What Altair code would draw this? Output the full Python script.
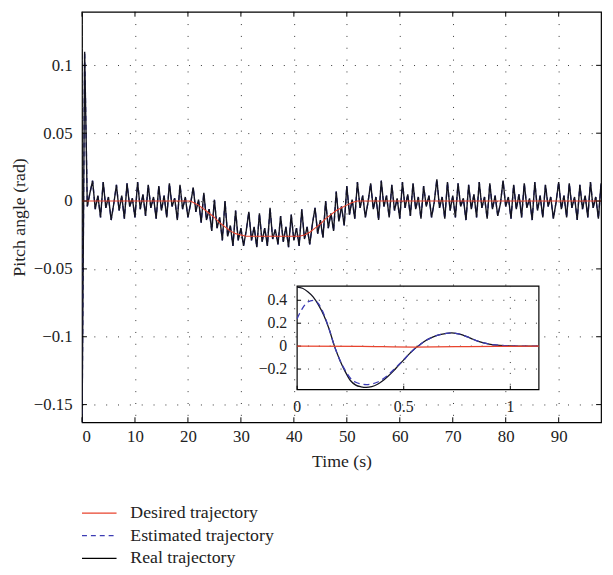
import altair as alt
import pandas as pd

# ---------------- data ----------------
# Real trajectory, main plot, sampled every 0.5 s from t = 0 to 98
real_vals = [
    -0.170, 0.110, -0.004, 0.006, 0.015, -0.006, 0.004, -0.012,
    0.014, -0.005, 0.003, -0.014, -0.002, 0.012, -0.007, 0.004,
    -0.013, 0.013, -0.004, 0.002, -0.012, 0.014, -0.006, 0.005,
    -0.011, 0.012, -0.005, 0.003, -0.013, 0.011, -0.007, 0.004,
    -0.012, 0.013, -0.004, 0.002, -0.014, 0.012, -0.006, 0.003,
    -0.012, -0.002, 0.010, -0.008, 0.001, -0.016, 0.006, -0.014,
    -0.006, -0.022, 0.001, -0.020, -0.012, -0.029, 0.000, -0.026,
    -0.018, -0.033, -0.007, -0.029, -0.020, -0.033, -0.022, -0.008,
    -0.029, -0.019, -0.034, -0.009, -0.030, -0.020, -0.033, -0.005,
    -0.028, -0.021, -0.032, -0.011, -0.030, -0.019, -0.034, -0.010,
    -0.029, -0.020, -0.033, -0.006, -0.028, -0.019, -0.032, -0.017,
    -0.005, -0.024, -0.014, -0.027, 0.000, -0.020, -0.009, -0.022,
    0.007, -0.015, -0.004, -0.018, 0.011, -0.010, 0.001, -0.013,
    0.014, -0.005, 0.004, -0.012, -0.001, 0.013, -0.006, 0.003,
    -0.014, 0.015, -0.004, 0.004, -0.012, 0.012, -0.007, 0.002,
    -0.013, 0.014, -0.005, 0.005, -0.011, 0.013, -0.006, 0.003,
    -0.013, 0.011, -0.004, 0.004, -0.012, -0.001, 0.016, -0.005,
    0.003, -0.013, 0.014, -0.007, 0.004, -0.012, 0.013, -0.004,
    0.002, -0.014, 0.012, -0.006, 0.005, -0.012, 0.014, -0.005,
    0.003, -0.013, 0.013, -0.006, 0.004, -0.011, -0.002, 0.015,
    -0.004, 0.003, -0.013, 0.012, -0.006, 0.005, -0.012, 0.013,
    -0.005, 0.002, -0.014, 0.014, -0.007, 0.004, -0.012, 0.012,
    -0.004, 0.003, -0.013, -0.001, 0.014, -0.006, 0.004, -0.012,
    0.013, -0.005, 0.003, -0.014, 0.012, -0.006, 0.004, -0.012,
    0.014, -0.005, 0.003, -0.013, 0.013,
]
real_t = [i * 0.5 for i in range(len(real_vals))]
# estimated trajectory coincides with the real one at this scale
est_vals = real_vals

desired_t = [0, 20.5, 21, 22, 23, 24, 25, 26, 27, 28, 29, 30, 31, 41, 42, 43,
             44, 45, 46, 47, 48, 49, 50, 51, 52, 98]
desired_v = [0, 0, -0.001, -0.003, -0.006, -0.009, -0.012, -0.016, -0.019,
             -0.022, -0.024, -0.025, -0.026, -0.026, -0.025, -0.023, -0.020,
             -0.017, -0.013, -0.010, -0.007, -0.005, -0.003, -0.001, 0, 0]

x_ticks = [0, 10, 20, 30, 40, 50, 60, 70, 80, 90]
y_ticks = [-0.15, -0.1, -0.05, 0, 0.05, 0.1]

# Inset (zoom on the first second)
inset_t = [0, 0.025, 0.05, 0.075, 0.1, 0.125, 0.15, 0.175, 0.2, 0.225, 0.25,
           0.275, 0.3, 0.325, 0.35, 0.375, 0.4, 0.425, 0.45, 0.475, 0.5, 0.525,
           0.55, 0.575, 0.6, 0.625, 0.65, 0.675, 0.7, 0.725, 0.75, 0.775, 0.8,
           0.825, 0.85, 0.875, 0.9, 0.95, 1.0, 1.05, 1.1, 1.134]
inset_real = [0.515, 0.505, 0.475, 0.43, 0.36, 0.27, 0.15, 0.0, -0.12, -0.22,
              -0.30, -0.34, -0.355, -0.36, -0.353, -0.335, -0.305, -0.265,
              -0.22, -0.17, -0.12, -0.07, -0.025, 0.01, 0.045, 0.07, 0.09,
              0.103, 0.112, 0.115, 0.11, 0.098, 0.08, 0.06, 0.042, 0.028,
              0.018, 0.007, 0.002, 0.0, 0.0, 0.0]
inset_est = [0.24, 0.33, 0.385, 0.40, 0.37, 0.28, 0.15, 0.0, -0.12, -0.21,
             -0.28, -0.315, -0.33, -0.335, -0.33, -0.315, -0.29, -0.255,
             -0.21, -0.165, -0.12, -0.07, -0.025, 0.01, 0.045, 0.07, 0.09,
             0.103, 0.112, 0.115, 0.11, 0.098, 0.08, 0.06, 0.042, 0.028,
             0.018, 0.007, 0.002, 0.0, 0.0, 0.0]
inset_des_t = [0, 0.3, 0.55, 0.8, 1.134]
inset_des_v = [0, -0.003, -0.008, -0.004, 0]

inset_x_ticks = [0, 0.5, 1]
inset_x_labels = ["0", "0.5", "1"]
inset_y_ticks = [0.4, 0.2, 0, -0.2]
inset_y_labels = ["0.4", "0.2", "0", "\u22120.2"]

legend_labels = ["Desired trajectory", "Estimated trajectory", "Real trajectory"]

# ---------------- styling / layout ----------------
W, H = 526, 416
X_DOM = [0, 98]
Y_DOM = [-0.163, 0.1395]
FONT = "Times New Roman, Liberation Serif, serif"
RED = "#e8432d"
BLUE = "#3c3cb4"
BLACK = "#141420"
GRID = "#333333"
TXT = "#222222"

# inset box in pixels (relative to the plot area) and its own domains
IN_L, IN_R, IN_T, IN_B = 218, 463, 278, 383
IX_DOM = [0, 1.134]
IY_DOM = [-0.38, 0.524]


def px_to_t(p):
    return X_DOM[0] + p * (X_DOM[1] - X_DOM[0]) / W


def px_to_v(p):
    return Y_DOM[1] - p * (Y_DOM[1] - Y_DOM[0]) / H


t0, t1 = px_to_t(IN_L), px_to_t(IN_R)
v0, v1 = px_to_v(IN_B), px_to_v(IN_T)
x_expr = f"{t0} + (datum.t - {IX_DOM[0]}) * {(t1 - t0) / (IX_DOM[1] - IX_DOM[0])}"
y_expr = f"{v0} + (datum.v - {IY_DOM[0]}) * {(v1 - v0) / (IY_DOM[1] - IY_DOM[0])}"

xs = alt.Scale(domain=X_DOM, nice=False, zero=False)
ys = alt.Scale(domain=Y_DOM, nice=False, zero=False)

x_axis = alt.Axis(values=x_ticks, grid=True, gridDash=[1, 11], gridColor=GRID,
                  gridWidth=1, ticks=False, domain=False, labelFont=FONT,
                  labelFontSize=17, labelColor=TXT, labelPadding=7,
                  title="Time (s)", titleFont=FONT, titleFontSize=18,
                  titleFontWeight="normal", titleColor=TXT, titlePadding=8)
y_axis = alt.Axis(values=y_ticks, format="~g", grid=True, gridDash=[1, 11],
                  gridColor=GRID, gridWidth=1, ticks=False, domain=False,
                  labelFont=FONT, labelFontSize=17, labelColor=TXT,
                  labelPadding=10, title="Pitch angle (rad)", titleFont=FONT,
                  titleFontSize=18, titleFontWeight="normal", titleColor=TXT,
                  titlePadding=5)

X = alt.X("t:Q", scale=xs, axis=x_axis)
Y = alt.Y("v:Q", scale=ys, axis=y_axis)
XM = alt.X("tm:Q")
YM = alt.Y("vm:Q")

real_df = pd.DataFrame({"t": real_t, "v": real_vals})
est_df = pd.DataFrame({"t": real_t, "v": est_vals})
des_df = pd.DataFrame({"t": desired_t, "v": desired_v})

est_line = alt.Chart(est_df).mark_line(clip=True, color=BLUE, strokeDash=[5, 4],
                                       strokeWidth=1.4).encode(x=X, y=Y)
real_line = alt.Chart(real_df).mark_line(clip=True, color=BLACK,
                                         strokeWidth=1.4).encode(x=X, y=Y)
des_line = alt.Chart(des_df).mark_line(clip=True, color=RED,
                                       strokeWidth=1.1).encode(x=X, y=Y)

# inward ticks on all four sides of the frame
xt_df = pd.DataFrame({"t": x_ticks})
yt_df = pd.DataFrame({"v": y_ticks})
tick_bottom = alt.Chart(xt_df).mark_rule(color="black").encode(
    x=X, y=alt.value(H), y2=alt.value(H - 5))
tick_top = alt.Chart(xt_df).mark_rule(color="black").encode(
    x=X, y=alt.value(0), y2=alt.value(5))
tick_left = alt.Chart(yt_df).mark_rule(color="black").encode(
    y=Y, x=alt.value(0), x2=alt.value(5))
tick_right = alt.Chart(yt_df).mark_rule(color="black").encode(
    y=Y, x=alt.value(W), x2=alt.value(W - 5))

# ---------------- inset ----------------
one = pd.DataFrame({"a": [0]})
box = alt.Chart(one).mark_rect(fill="white", stroke="black", strokeWidth=1.2).encode(
    x=alt.value(IN_L), x2=alt.value(IN_R), y=alt.value(IN_T), y2=alt.value(IN_B))

igrid_v = alt.Chart(pd.DataFrame({"t": [0.5, 1.0]})).transform_calculate(
    tm=x_expr).mark_rule(color=GRID, strokeDash=[1, 10]).encode(
    x=XM, y=alt.value(IN_T), y2=alt.value(IN_B))
igrid_h = alt.Chart(pd.DataFrame({"v": inset_y_ticks})).transform_calculate(
    vm=y_expr).mark_rule(color=GRID, strokeDash=[1, 10]).encode(
    y=YM, x=alt.value(IN_L), x2=alt.value(IN_R))
itick_l = alt.Chart(pd.DataFrame({"v": inset_y_ticks})).transform_calculate(
    vm=y_expr).mark_rule(color="black").encode(
    y=YM, x=alt.value(IN_L), x2=alt.value(IN_L + 4))
itick_b = alt.Chart(pd.DataFrame({"t": inset_x_ticks})).transform_calculate(
    tm=x_expr).mark_rule(color="black").encode(
    x=XM, y=alt.value(IN_B), y2=alt.value(IN_B - 4))

ireal = alt.Chart(pd.DataFrame({"t": inset_t, "v": inset_real})).transform_calculate(
    tm=x_expr, vm=y_expr).mark_line(color=BLACK, strokeWidth=1.3,
                                    interpolate="monotone").encode(x=XM, y=YM)
iest = alt.Chart(pd.DataFrame({"t": inset_t, "v": inset_est})).transform_calculate(
    tm=x_expr, vm=y_expr).mark_line(color=BLUE, strokeDash=[6, 4], strokeWidth=1.3,
                                    interpolate="monotone").encode(x=XM, y=YM)
ides = alt.Chart(pd.DataFrame({"t": inset_des_t, "v": inset_des_v})).transform_calculate(
    tm=x_expr, vm=y_expr).mark_line(color=RED, strokeWidth=1.3,
                                    interpolate="monotone").encode(x=XM, y=YM)

ixlab = alt.Chart(pd.DataFrame({"t": inset_x_ticks, "s": inset_x_labels})).transform_calculate(
    tm=x_expr).mark_text(align="center", baseline="middle", font=FONT, fontSize=16,
                         color=TXT).encode(x=XM, y=alt.value(401), text="s:N")
iylab = alt.Chart(pd.DataFrame({"v": inset_y_ticks, "s": inset_y_labels})).transform_calculate(
    vm=y_expr).mark_text(align="right", baseline="middle", font=FONT, fontSize=16,
                         color=TXT).encode(y=YM, x=alt.value(IN_L - 10), text="s:N")

# ---------------- legend below the plot ----------------
leg_colors = [RED, BLUE, "black"]
leg_dash = [[1, 0], [5, 4], [1, 0]]
leg_y = [508, 531, 554]
legend_layers = []
for lab, col, dash, yy in zip(legend_labels, leg_colors, leg_dash, leg_y):
    legend_layers.append(alt.Chart(one).mark_rule(color=col, strokeDash=dash,
                                                  strokeWidth=1.3).encode(
        x=alt.value(0), x2=alt.value(35), y=alt.value(yy)))
    legend_layers.append(alt.Chart(one).mark_text(
        align="left", baseline="middle", font=FONT, fontSize=18, color=TXT).encode(
        x=alt.value(49), y=alt.value(yy), text=alt.value(lab)))

chart = alt.layer(
    est_line, real_line, des_line, tick_bottom, tick_top, tick_left, tick_right,
    box, igrid_v, igrid_h, itick_l, itick_b, ireal, iest, ides, ixlab, iylab,
    *legend_layers,
).properties(
    width=W, height=H,
    padding={"left": 75, "top": 0, "right": 4, "bottom": 150},
    autosize=alt.AutoSizeParams(type="none"),
    background="white",
).configure_view(stroke="black", strokeWidth=1.2)

chart.save("out.html", embed_options={"renderer": "svg", "actions": False})
